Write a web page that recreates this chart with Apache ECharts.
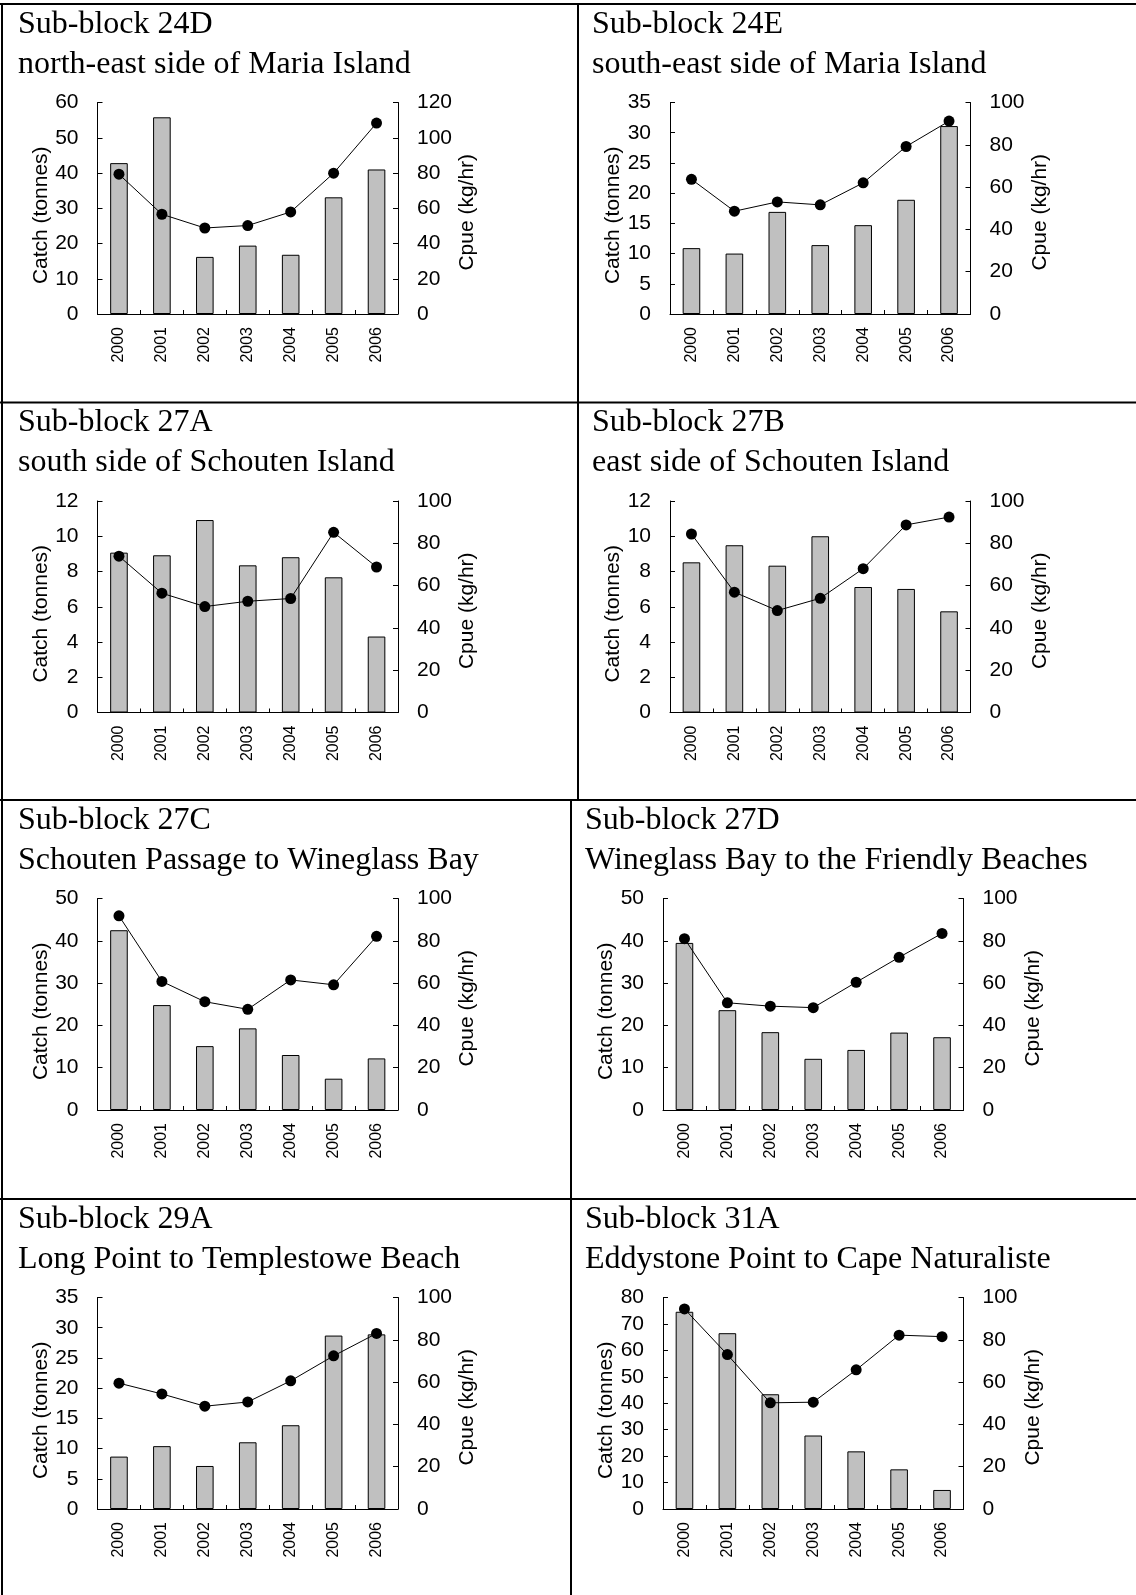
<!DOCTYPE html>
<html>
<head>
<meta charset="utf-8">
<script src="https://cdn.jsdelivr.net/npm/echarts@6/dist/echarts.min.js"></script>
<style>
  html, body { margin: 0; padding: 0; background: #fff; }
  #chart { width: 1136px; height: 1595px; }
</style>
</head>
<body>
<div id="chart"></div>
<script>
// ---- data ----
const years = ['2000', '2001', '2002', '2003', '2004', '2005', '2006'];

const catch24D = [42.8, 55.8, 16.2, 19.4, 16.8, 33.1, 41.0];
const cpue24D  = [79.3, 56.6, 48.8, 50.2, 57.9, 79.9, 108.3];

const catch24E = [10.9, 10.0, 16.9, 11.4, 14.7, 18.9, 31.1];
const cpue24E  = [63.7, 48.6, 53.0, 51.6, 62.0, 79.2, 91.2];

const catch27A = [9.07, 8.92, 10.92, 8.35, 8.81, 7.67, 4.31];
const cpue27A  = [73.9, 56.4, 50.1, 52.6, 53.9, 85.2, 68.8];

const catch27B = [8.52, 9.49, 8.33, 10.0, 7.12, 7.01, 5.74];
const cpue27B  = [84.4, 56.9, 48.2, 54.0, 68.0, 88.7, 92.4];

const catch27C = [42.5, 24.8, 15.1, 19.3, 13.0, 7.4, 12.2];
const cpue27C  = [91.8, 60.8, 51.2, 47.6, 61.5, 59.2, 82.1];

const catch27D = [39.5, 23.6, 18.4, 12.1, 14.2, 18.3, 17.2];
const cpue27D  = [81.0, 50.7, 49.1, 48.4, 60.4, 72.2, 83.5];

const catch29A = [8.67, 10.4, 7.12, 11.04, 13.86, 28.7, 28.9];
const cpue29A  = [59.5, 54.4, 48.6, 50.6, 60.6, 72.4, 83.0];

const catch31A = [74.6, 66.5, 43.4, 27.8, 21.8, 15.0, 7.2];
const cpue31A  = [94.6, 73.0, 50.2, 50.5, 65.8, 82.2, 81.5];

const blockCodes  = ['24D', '24E', '27A', '27B', '27C', '27D', '29A', '31A'];
const blockPlaces = [
  'north-east side of Maria Island',
  'south-east side of Maria Island',
  'south side of Schouten Island',
  'east side of Schouten Island',
  'Schouten Passage to Wineglass Bay',
  'Wineglass Bay to the Friendly Beaches',
  'Long Point to Templestowe Beach',
  'Eddystone Point to Cape Naturaliste'
];
const catchMax  = [60, 35, 12, 12, 50, 50, 35, 80];
const catchStep = [10, 5, 2, 2, 10, 10, 5, 10];
const cpueMax   = [120, 100, 100, 100, 100, 100, 100, 100];
const cpueStep  = [20, 20, 20, 20, 20, 20, 20, 20];

const catchSeries = [catch24D, catch24E, catch27A, catch27B, catch27C, catch27D, catch29A, catch31A];
const cpueSeries  = [cpue24D, cpue24E, cpue27A, cpue27B, cpue27C, cpue27D, cpue29A, cpue31A];

// ---- layout ----
const rowTop = [4, 402.5, 800, 1199];
const gridLeftCols  = [[97.5, 670], [97.5, 670], [97.5, 663], [97.5, 663]];
const titleLeftCols = [[18, 592], [18, 592], [18, 585], [18, 585]];
const GRID_W = 300.5, GRID_H = 211.5;

const SANS = 'Liberation Sans, Arial, sans-serif';
const SERIF = 'Liberation Serif, Times New Roman, serif';

const grids = [], xAxes = [], yAxes = [], series = [], titles = [];

for (let i = 0; i < 8; i++) {
  const r = Math.floor(i / 2), c = i % 2;
  grids.push({ left: gridLeftCols[r][c], top: rowTop[r] + 98.5, width: GRID_W, height: GRID_H });
  titles.push({
    text: 'Sub-block ' + blockCodes[i] + '\n' + blockPlaces[i],
    left: titleLeftCols[r][c], top: rowTop[r] + 0.5, padding: 0,
    textStyle: { fontFamily: SERIF, fontSize: 32, fontWeight: 'normal', color: '#000', lineHeight: 40 }
  });
  xAxes.push({
    type: 'category', gridIndex: i, data: years, boundaryGap: true,
    axisLine: { show: true, lineStyle: { color: '#000', width: 1 } },
    axisTick: { show: true, inside: true, length: 4, lineStyle: { color: '#000' } },
    axisLabel: { rotate: 90, interval: 0, fontSize: 16, fontFamily: SANS, color: '#000', margin: 13 },
    splitLine: { show: false }
  });
  yAxes.push({
    type: 'value', gridIndex: i, position: 'left', min: 0, max: catchMax[i], interval: catchStep[i],
    name: 'Catch (tonnes)', nameLocation: 'middle', nameGap: 46,
    nameTextStyle: { fontSize: 21, fontFamily: SANS, color: '#000', padding: [0, 14, 0, 0] },
    axisLine: { show: true, lineStyle: { color: '#000', width: 1 } },
    axisTick: { show: true, inside: true, length: 5, lineStyle: { color: '#000' } },
    axisLabel: { fontSize: 21, fontFamily: SANS, color: '#000', margin: 19 },
    splitLine: { show: false }
  });
  yAxes.push({
    type: 'value', gridIndex: i, position: 'right', min: 0, max: cpueMax[i], interval: cpueStep[i],
    name: 'Cpue (kg/hr)', nameLocation: 'middle', nameGap: 59,
    nameTextStyle: { fontSize: 21, fontFamily: SANS, color: '#000', padding: [0, 8, 0, 0] },
    axisLine: { show: true, lineStyle: { color: '#000', width: 1 } },
    axisTick: { show: true, inside: true, length: 5, lineStyle: { color: '#000' } },
    axisLabel: { fontSize: 21, fontFamily: SANS, color: '#000', margin: 19 },
    splitLine: { show: false }
  });
  series.push({
    type: 'bar', xAxisIndex: i, yAxisIndex: 2 * i, data: catchSeries[i], barWidth: '41%',
    itemStyle: { color: '#C0C0C0', borderColor: '#000', borderWidth: 1 }, z: 2
  });
  series.push({
    type: 'line', xAxisIndex: i, yAxisIndex: 2 * i + 1, data: cpueSeries[i],
    symbol: 'circle', symbolSize: 11,
    lineStyle: { color: '#000', width: 1 }, itemStyle: { color: '#000' }, z: 3
  });
}

// panel frame lines
const frameLines = [
  [0, 4, 1136, 4],
  [2, 3, 2, 1595],
  [0, 402.5, 1136, 402.5],
  [0, 800, 1136, 800],
  [0, 1199, 1136, 1199],
  [578, 3, 578, 800],
  [571, 800, 571, 1595]
];
const graphics = frameLines.map(l => ({
  type: 'line', silent: true, z: 10,
  shape: { x1: l[0], y1: l[1], x2: l[2], y2: l[3] },
  style: { stroke: '#000', lineWidth: 2 }
}));

const chart = echarts.init(document.getElementById('chart'), null, { renderer: 'canvas' });
chart.setOption({
  animation: false,
  backgroundColor: '#fff',
  title: titles,
  grid: grids,
  xAxis: xAxes,
  yAxis: yAxes,
  series: series,
  graphic: graphics
});
</script>
</body>
</html>
